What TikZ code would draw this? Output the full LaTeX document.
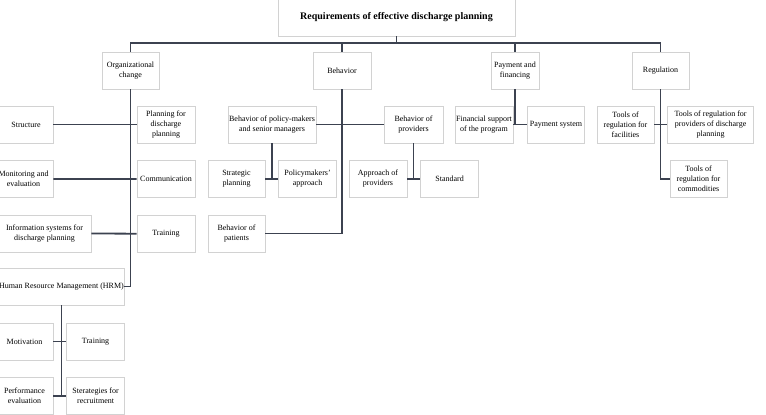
\documentclass[tikz,border=0pt]{standalone}
\usepackage{fontspec}
\setmainfont{Liberation Serif}
\usetikzlibrary{positioning}
\definecolor{linkgray}{HTML}{3C4250}
\definecolor{framegray}{HTML}{D2D2D2}

\begin{document}
\begin{tikzpicture}[
  x=1pt,y=1pt,
  font=\fontsize{8}{10}\selectfont,
  node distance=17pt and 13pt,
  box/.style={draw=framegray,line width=0.6pt,align=center,minimum height=37pt,
              inner sep=1pt,fill=white},
  head/.style={box,minimum width=237pt,minimum height=37pt,
               font=\fontsize{10}{12}\selectfont\bfseries},
  link/.style={draw=linkgray,line width=1.8pt}
]
\useasboundingbox (0,0) rectangle (766,415);

% top level
\node[head] (req) at (396.5,397.5) {Requirements of effective discharge planning};
\node[box,minimum width=57pt] (org) at (130.5,344.5) {Organizational\\change};
\node[box,minimum width=58pt] (beh) at (342,344.5) {Behavior};
\node[box,minimum width=48pt] (pay) at (515,344.5) {Payment and\\financing};
\node[box,minimum width=57pt] (reg) at (660.5,344.5) {Regulation};
\coordinate (bus) at (0,372);
\draw[link] (req.south) -- (req.south |- bus);
\draw[link] (org.north) |- (bus -| reg.north) -- (reg.north);
\draw[link] (beh.north) -- (beh.north |- bus);
\draw[link] (pay.north) -- (pay.north |- bus);

% organizational change
\node[box,minimum width=54pt] (str) at (26,290.5) {Structure};
\node[box,minimum width=59pt] (mon) at (23.5,236) {Monitoring and\\evaluation};
\node[box,minimum width=93pt] (info) at (44.5,181.5) {Information systems for\\discharge planning};
\node[box,minimum width=123pt,inner sep=0pt] (hrm) at (61.5,128.5) {Human Resource Management (HRM)};
\node[box,minimum width=58pt] (plan) at (166,290.5) {Planning for\\discharge\\planning};
\node[box,minimum width=58pt,below=of plan] (comm) {Communication};
\node[box,minimum width=58pt,below=of comm] (trn) {Training};
\draw[link] (org.south) |- (hrm.east);
\draw[link] (str.east) -- (plan.west);
\draw[link] (mon.east) -- (comm.west);
\draw[link] (info.east) -- (trn.west);

% human resource management
\node[box,minimum width=57pt] (mot) at (24.5,73.5) {Motivation};
\node[box,minimum width=58pt,right=of mot] (htrn) {Training};
\node[box,minimum width=57pt,below=of mot] (perf) {Performance\\evaluation};
\node[box,minimum width=58pt,right=of perf] (rec) {Sterategies for\\recruitment};
\draw[link] (hrm.south) -- (hrm.south |- perf.east);
\draw[link] (mot.east) -- (htrn.west);
\draw[link] (perf.east) -- (rec.west);

% behavior
\node[box,minimum width=88pt] (pol) at (272,290.5) {Behavior of policy-makers\\and senior managers};
\node[box,minimum width=59pt] (prov) at (413.5,290.5) {Behavior of\\providers};
\node[box,minimum width=57pt] (spl) at (236.5,236) {Strategic\\planning};
\node[box,minimum width=58pt,right=of spl] (papp) {Policymakers’\\approach};
\node[box,minimum width=57pt,below=of spl] (pat) {Behavior of\\patients};
\node[box,minimum width=58pt] (appr) at (378,236) {Approach of\\providers};
\node[box,minimum width=58pt,right=of appr] (std) {Standard};
\draw[link] (beh.south) |- (pat.east);
\draw[link] (pol.east) -- (prov.west);
\draw[link] (pol.south) -- (pol.south |- spl.east);
\draw[link] (spl.east) -- (papp.west);
\draw[link] (prov.south) -- (prov.south |- appr.east);
\draw[link] (appr.east) -- (std.west);

% payment and financing
\node[box,minimum width=56pt] (fin) at (484,290.5) {Financial support\\of the program};
\node[box,minimum width=57pt,right=14pt of fin] (psys) {Payment system};
\draw[link] (pay.south) -- (pay.south |- fin.east);
\draw[link] (fin.east) -- (psys.west);

% regulation
\node[box,minimum width=57pt] (tfac) at (625.5,290.5) {Tools of\\regulation for\\facilities};
\node[box,minimum width=86pt,right=of tfac] (tprov) {Tools of regulation for\\providers of discharge\\planning};
\node[box,minimum width=57pt] (tcom) at (698.5,236) {Tools of\\regulation for\\commodities};
\draw[link] (reg.south) |- (tcom.west);
\draw[link] (tfac.east) -- (tprov.west);
\end{tikzpicture}
\end{document}
